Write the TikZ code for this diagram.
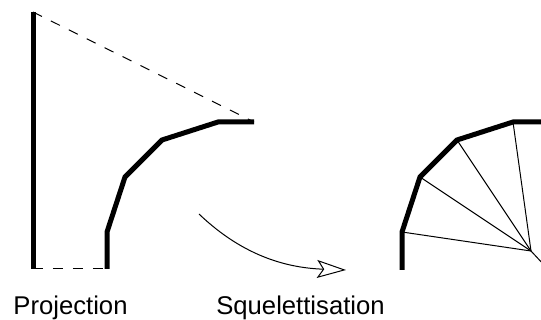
\documentclass[tikz,border=0pt]{standalone}
\usepackage{fontspec}
\setmainfont{Liberation Sans}
\usetikzlibrary{arrows.meta, calc}

\begin{document}
\begin{tikzpicture}[
      x=0.02cm, y=-0.02cm,
      thickline/.style={line width=0.1cm, line cap=butt, line join=miter},
      thinline/.style={line width=0.02cm},
      dashline/.style={line width=0.02cm, dash pattern=on 0.2cm off 0.2cm},
      label/.style={font=\fontsize{14.6}{16}\selectfont, inner sep=0pt, anchor=base},
    ]
      \useasboundingbox (0, 0) rectangle (541, 320);

      % projection
      \coordinate (top) at (33, 12);
      \coordinate (bottom) at (33, 269);
      \coordinate (a0) at (107, 269);
      \coordinate (a1) at (107, 232);
      \coordinate (a2) at (125, 177);
      \coordinate (a3) at (162, 140);
      \coordinate (a4) at (218, 122);
      \coordinate (a5) at (254, 122);
      \draw[thickline] (top) -- (bottom);
      \draw[thickline] (a0) -- (a1) -- (a2) -- (a3) -- (a4) -- (a5);
      \draw[dashline] (top) -- (a5);
      \draw[dashline] (bottom) -- (a0);

      % squelette
      \coordinate (b0) at (402, 270);
      \coordinate (b1) at (402, 232);
      \coordinate (b2) at (420, 177);
      \coordinate (b3) at (457, 140);
      \coordinate (b4) at (513, 122);
      \coordinate (b5) at (545, 122);
      \coordinate (hub) at (531, 251);
      \coordinate (out) at (545, 266);
      \draw[thickline] (b0) -- (b1) -- (b2) -- (b3) -- (b4) -- (b5);
      \draw[thinline] (hub) -- (b1);
      \draw[thinline] (hub) -- (b2);
      \draw[thinline] (hub) -- (b3);
      \draw[thinline] (hub) -- (b4);
      \draw[thinline] (hub) -- (out);

      % fleche
      \coordinate (from) at (199, 214);
      \coordinate (to) at (346, 270);
      \draw[thinline, -{Stealth[open, fill=white, length=0.58cm, width=0.36cm, inset=0.12cm]}]
        (from) .. controls (245, 258) and (290, 268) .. (to);

      \node[label] (proj) at (70.5, 315) {Projection};
      \node[label] (sque) at (300.5, 315) {Squelettisation};
    \end{tikzpicture}
\end{document}
